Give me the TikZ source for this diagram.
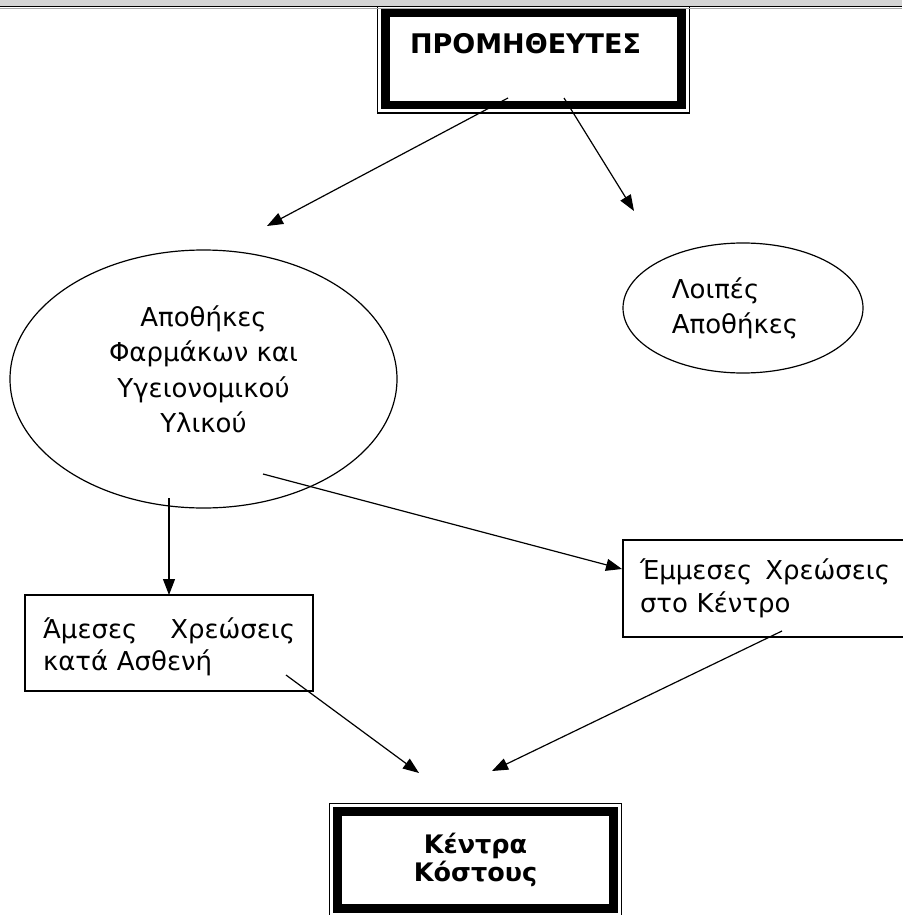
\documentclass[tikz,border=0pt]{standalone}
\usepackage{fontspec}
\setmainfont{DejaVu Sans}
\usepackage{tikz}
\usetikzlibrary{calc,shapes.geometric,arrows.meta}
\definecolor{bargray}{RGB}{212,212,212}
\def\outerframe(#1)(#2){\draw[line width=1.2pt] ($(#1.north west)+(-#2,-#2)$) rectangle ($(#1.south east)+(#2,#2)$);}
\tikzset{
	thickbox/.style={draw, line width=8.5pt, outer sep=0pt, inner sep=0pt},
	thinbox/.style={draw, line width=1.3pt, outer sep=0pt, inner ysep=0pt, align=left},
	oval/.style={draw, ellipse, line width=1.2pt, outer sep=0pt, inner sep=0pt},
	arr/.style={line width=1.2pt, -{Triangle[length=16pt,width=12pt]}}
}

\begin{document}
\begin{tikzpicture}[x=1pt,y=-1pt]
		%%%%% START %%%%%
		\useasboundingbox (0,0) rectangle (902,915);
		
		\node[thickbox, text width=247pt, inner xsep=24.5pt, text height=41pt, text depth=51pt, align=left, font=\bfseries\fontsize{27}{30}\selectfont] (supp) at (533.5,59) {ΠΡΟΜΗΘΕΥΤΕΣ};
		\outerframe(supp)(8)
		
		\fill[bargray] (0,0) rectangle (902,6);
		\draw[line width=1.5pt] (0,6.5) -- (902,6.5);
		\draw[black!35, line width=0.8pt] (0,8) -- (902,8);
		
		\node[oval, minimum width=387pt, minimum height=258pt, align=center, font=\fontsize{26}{35.5}\selectfont] (pharm) at (203.5,379) {Αποθήκες\\Φαρμάκων και\\Υγειονομικού\\Υλικού\rule[-20pt]{0pt}{0pt}};
		\node[oval, minimum width=240pt, minimum height=130pt, align=left, font=\fontsize{26}{35}\selectfont] (other) at (743,308) {Λοιπές\\Αποθήκες\hspace*{16pt}};
		
		\node[thinbox, text width=252pt, inner xsep=18pt, minimum height=96pt, font=\fontsize{26}{32}\selectfont] (direct) at (169,643) {\rule{0pt}{28pt}Άμεσες\hfill Χρεώσεις\\κατά Ασθενή};
		\node[thinbox, text width=250pt, inner xsep=17pt, minimum height=97pt, font=\fontsize{26}{33}\selectfont] (indirect) at (765,588.5) {Έμμεσες\hfill Χρεώσεις\\στο Κέντρο};
		
		\node[thickbox, minimum width=276pt, minimum height=97pt, align=center, font=\bfseries\fontsize{25.5}{28}\selectfont] (cost) at (475.5,860) {Κέντρα\\Κόστους};
		\outerframe(cost)(8)
		
		\draw[arr] ($(supp.south)+(-25.5,-7)$) -- ($(pharm.north)+(63.5,-24)$);
		\draw[arr] ($(supp.south)+(30.5,-7)$) -- ($(other.north)+(-109,-32)$);
		\draw[arr] ($(direct.north |- pharm.south)+(0,-10)$) -- (direct.north);
		\draw[arr] ($(pharm.center)+(59.5,95)$) -- ($(indirect.west)+(-1,-19.5)$);
		\draw[arr] ($(direct.south east)+(-27,-16)$) -- ($(cost.north)+(-56.5,-38.5)$);
		\draw[arr] ($(indirect.south)+(17,-6)$) -- ($(cost.north)+(16.5,-40.5)$);
		%%%%% END %%%%%
	\end{tikzpicture}
\end{document}
